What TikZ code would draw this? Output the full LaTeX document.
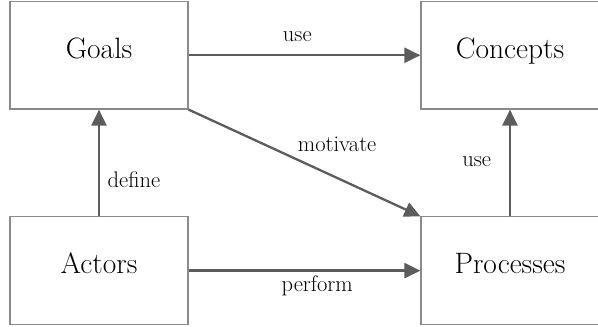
\documentclass[tikz,border=0pt]{standalone}
\usetikzlibrary{arrows.meta}
\definecolor{boxline}{HTML}{8A8A8A}
\definecolor{linkline}{HTML}{5C5C5C}
\tikzset{
  x=1pt, y=1pt,
  block/.style={draw=boxline, line width=1.2pt, rectangle, inner sep=0pt,
    minimum width=178pt, minimum height=107.5pt,
    font=\rmfamily\fontsize{29.5}{32}\selectfont, text height=0.9em, text depth=0.23em},
  link/.style={draw=linkline, line width=2.3pt,
    -{Triangle[length=16pt,width=15pt]}, color=linkline},
  tag/.style={font=\rmfamily\fontsize{22.5}{25}\selectfont, inner sep=0pt, text=black}
}
\begin{document}
\begin{tikzpicture}
\useasboundingbox (0,0) rectangle (598,327);
% the four boxes
\node[block] (goals)     at (99,271.75)  {Goals};
\node[block] (concepts)  at (510,271.75) {Concepts};
\node[block] (actors)    at (99,56.35)   {Actors};
\node[block] (processes) at (510,56.35)  {Processes};
% relations between them
\draw[link] (goals.east) -- (concepts.west)
  node[tag, pos=0.469, anchor=base, yshift=13.4pt] (useA) {use};
\draw[link] (actors.north) -- (goals.south)
  node[tag, pos=0.266, anchor=base west, xshift=7.5pt] (define) {define};
\draw[link] (goals.south east) -- (processes.north west)
  node[tag, pos=0.4665, anchor=base west, yshift=7.7pt] (motivate) {motivate};
\draw[link] (processes.north) -- (concepts.south)
  node[tag, pos=0.466, anchor=base east, xshift=-17.8pt] (useB) {use};
\draw[link] (actors.east) -- (processes.west)
  node[tag, pos=0.555, anchor=base, yshift=-21pt] (perform) {perform};
\end{tikzpicture}
\end{document}
